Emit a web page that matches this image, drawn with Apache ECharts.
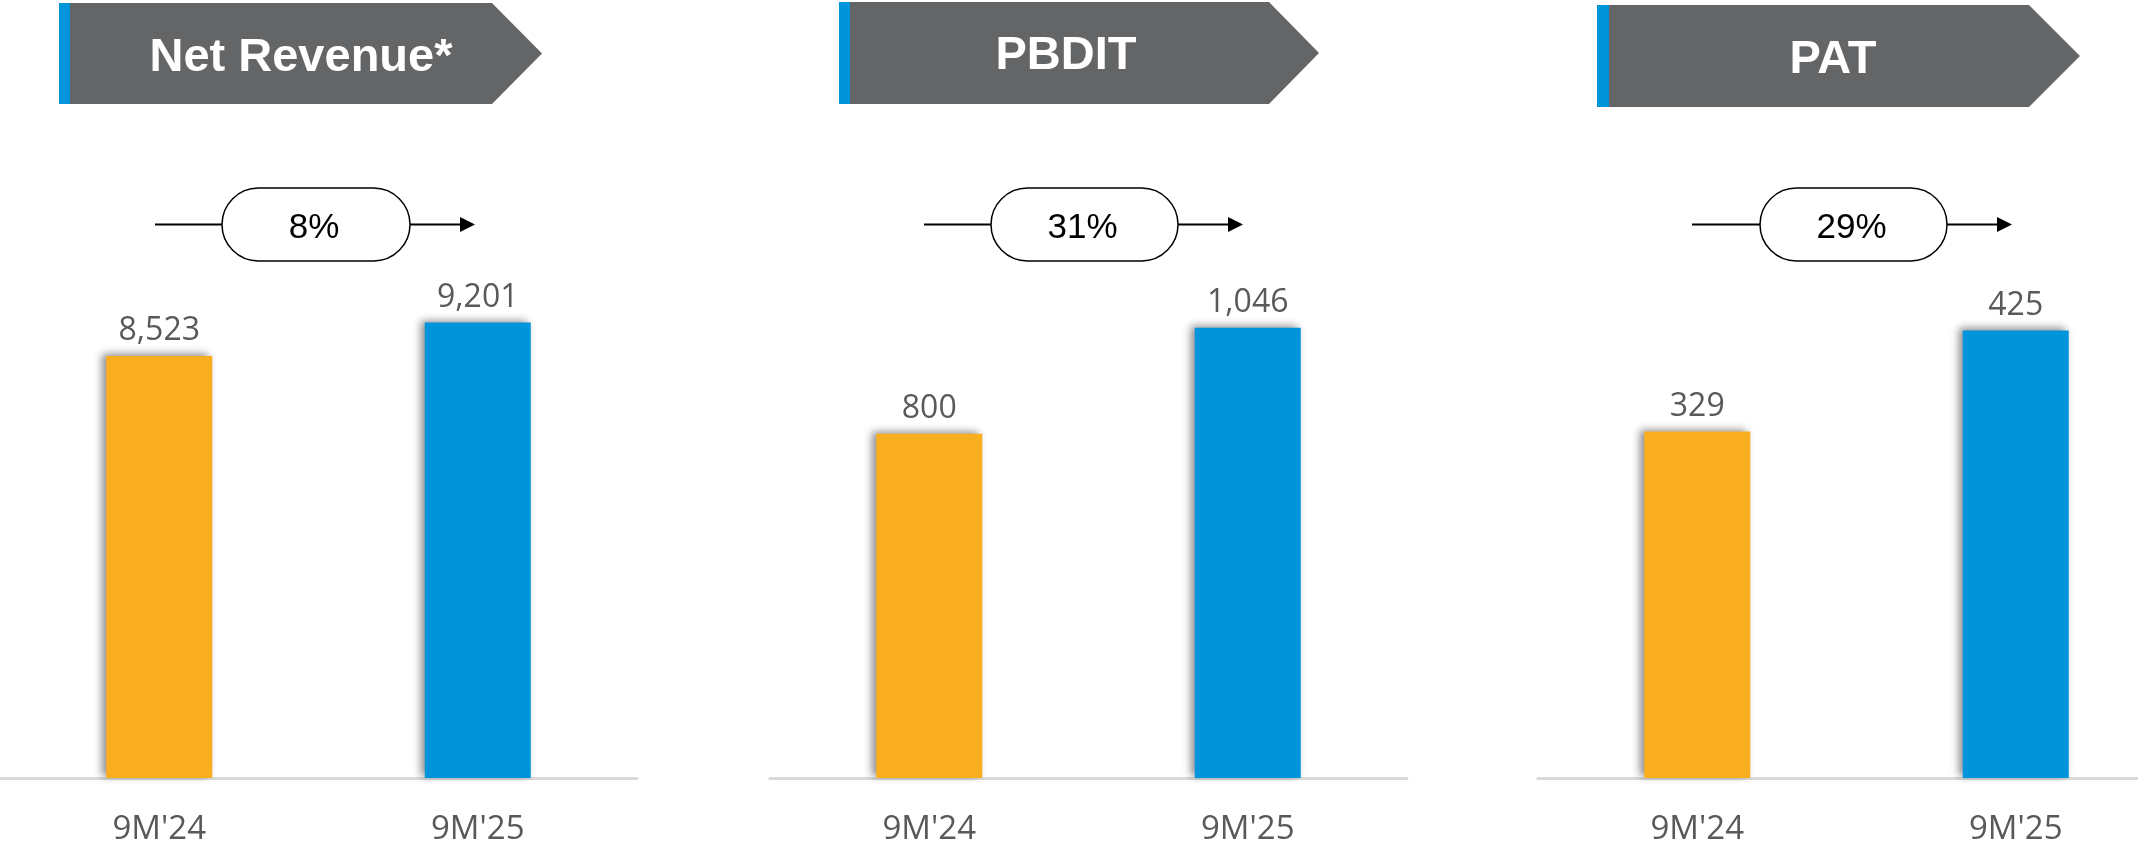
<!DOCTYPE html>
<html lang="en">
<head>
    <meta charset="UTF-8">
    <title>9M results</title>
    <script src="https://cdn.jsdelivr.net/npm/echarts@6/dist/echarts.min.js"></script>
</head>
<body style="margin:0;background:#fff;overflow:hidden;">
<!-- the last panel's axis runs past the right edge, so the chart is a bit wider than the window -->
<div id="main" style="width:2175px;height:846px;"></div>
<script type="text/javascript">
    // data
    var periods = ["9M'24", "9M'25"];
    var titles = ['Net Revenue*', 'PBDIT', 'PAT'];
    var revenue = [8523, 9201];
    var pbdit = [800, 1046];
    var pat = [329, 425];
    var growth = ['8%', '31%', '29%'];
    var axisMax = [10000, 1150, 470];

    var barColors = ['#F9AE1F', '#0095DA'];
    var panelValues = [revenue, pbdit, pat];

    // panel layout (px)
    var chartWidth = 2175;
    var gridLeft = [0, 770, 1538];
    var gridWidth = 637;
    var banners = [
        {x0: 59, x1: 70, x2: 492, tip: 542, y0: 3, y1: 104, tx: 301, ty: 58},
        {x0: 839, x1: 850, x2: 1269, tip: 1319, y0: 2, y1: 104, tx: 1066, ty: 56},
        {x0: 1597, x1: 1609, x2: 2029, tip: 2080, y0: 5, y1: 107, tx: 1833, ty: 60}
    ];
    var pills = [
        {l: 222, r: 410, a: 155, b: 475},
        {l: 991, r: 1178, a: 924, b: 1243},
        {l: 1760, r: 1947, a: 1692, b: 2012}
    ];
    var pillTop = 188, pillBottom = 261;

    var myEChart = echarts.init(document.getElementById('main'));

    var grids = [], xAxes = [], yAxes = [], series = [], graphics = [];
    for (var i = 0; i < 3; i++) {
        grids.push({
            left: gridLeft[i],
            right: chartWidth - gridLeft[i] - gridWidth,
            top: 283,
            bottom: 68
        });
        xAxes.push({
            type: 'category',
            gridIndex: i,
            data: periods,
            axisLine: {lineStyle: {color: '#D9D9D9', width: 3}},
            axisTick: {show: false},
            axisLabel: {
                color: '#595959',
                fontFamily: 'Open Sans',
                fontSize: 33,
                margin: 35
            }
        });
        yAxes.push({
            type: 'value',
            gridIndex: i,
            min: 0,
            max: axisMax[i],
            show: false
        });
        series.push({
            type: 'bar',
            xAxisIndex: i,
            yAxisIndex: i,
            barWidth: 106,
            data: panelValues[i].map(function (v, k) {
                return {value: v, itemStyle: {color: barColors[k]}};
            }),
            itemStyle: {
                shadowColor: 'rgba(0,0,0,0.45)',
                shadowBlur: 8,
                shadowOffsetX: -4,
                shadowOffsetY: -2
            },
            label: {
                show: true,
                position: 'top',
                distance: 9,
                color: '#595959',
                fontFamily: 'Open Sans',
                fontSize: 32,
                formatter: function (p) {
                    return p.value.toLocaleString('en-US');
                }
            }
        });

        // title banner
        var b = banners[i];
        var my = (b.y0 + b.y1) / 2;
        graphics.push({
            type: 'polygon',
            shape: {points: [[b.x1, b.y0], [b.x2, b.y0], [b.tip, my], [b.x2, b.y1], [b.x1, b.y1]]},
            style: {fill: '#646567'}
        });
        graphics.push({
            type: 'rect',
            shape: {x: b.x0, y: b.y0, width: b.x1 - b.x0, height: b.y1 - b.y0},
            style: {fill: '#0095DA'}
        });
        graphics.push({
            type: 'text',
            x: b.tx,
            y: b.ty,
            style: {
                text: titles[i],
                fill: '#fff',
                font: 'bold 47px "Liberation Sans", Arial, sans-serif',
                align: 'center',
                verticalAlign: 'middle'
            }
        });

        // growth pill with arrow
        var p = pills[i];
        var cy = (pillTop + pillBottom) / 2;
        graphics.push({
            type: 'line',
            shape: {x1: p.a, y1: cy, x2: p.l, y2: cy},
            style: {stroke: '#000', lineWidth: 2}
        });
        graphics.push({
            type: 'line',
            shape: {x1: p.r, y1: cy, x2: p.b - 12, y2: cy},
            style: {stroke: '#000', lineWidth: 2}
        });
        graphics.push({
            type: 'polygon',
            shape: {points: [[p.b - 15, cy - 7.5], [p.b, cy], [p.b - 15, cy + 7.5]]},
            style: {fill: '#000'}
        });
        graphics.push({
            type: 'rect',
            shape: {x: p.l, y: pillTop, width: p.r - p.l, height: pillBottom - pillTop, r: (pillBottom - pillTop) / 2},
            style: {fill: '#fff', stroke: '#000', lineWidth: 1.5}
        });
        graphics.push({
            type: 'text',
            x: (p.l + p.r) / 2 - 2,
            y: cy + 4,
            style: {
                text: growth[i],
                fill: '#000',
                font: '35px "Liberation Sans", Arial, sans-serif',
                align: 'center',
                verticalAlign: 'middle'
            }
        });
    }

    myEChart.setOption({
        animation: false,
        grid: grids,
        xAxis: xAxes,
        yAxis: yAxes,
        series: series,
        graphic: graphics
    });
</script>
</body>
</html>
